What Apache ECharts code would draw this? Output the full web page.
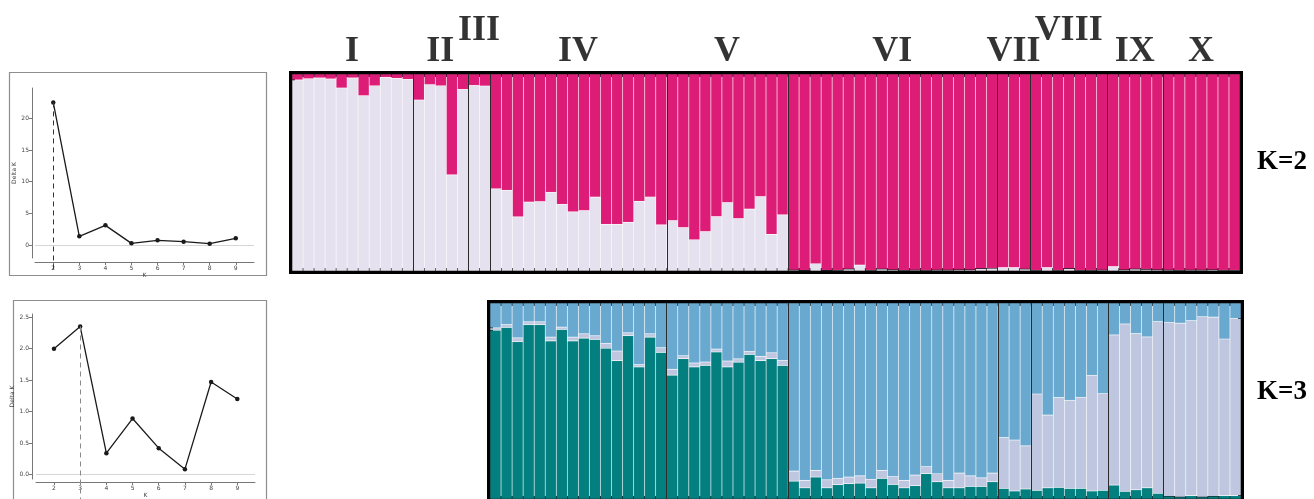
<!DOCTYPE html>
<html><head><meta charset="utf-8">
<script src="https://cdn.jsdelivr.net/npm/echarts@6/dist/echarts.min.js"></script>
<style>html,body{margin:0;padding:0;background:#fff;}#c{width:1314px;height:499px;}</style>
</head><body><div id="c"></div>
<script>
// ---------- data ----------
const groups = ['I','II','III','IV','V','VI','VII','VIII','IX','X'];
const groupSizes = [11,5,2,16,11,19,3,7,5,7];
const raisedGroups = ['III','VIII'];

// K=2 : membership in the pale cluster (rest = magenta cluster)
const k2Pale = [
  0.97,0.976,0.98,0.975,0.929,0.98,0.89,0.94,0.983,0.978,0.973,
  0.868,0.946,0.94,0.488,0.922,
  0.942,0.939,
  0.417,0.41,0.275,0.35,0.353,0.40,0.339,0.30,0.307,0.375,0.237,0.237,0.247,0.354,0.376,0.234,
  0.256,0.22,0.159,0.2,0.276,0.347,0.266,0.314,0.378,0.186,0.285,
  0.005,0.003,0.037,0.003,0.004,0.01,0.03,0.004,0.01,0.006,0.004,0.005,0.004,0.005,0.005,0.006,0.006,0.012,0.014,
  0.017,0.017,0.01,
  0.004,0.017,0.004,0.012,0.004,0.004,0.005,
  0.022,0.006,0.01,0.008,0.006,
  0.005,0.004,0.005,0.005,0.006,0.004,0.004
];

// K=3 (groups IV..X): teal cluster, pale cluster (rest = blue cluster)
const k3FirstGroup = 3;
const k3Teal = [
  0.861,0.875,0.802,0.889,0.889,0.807,0.865,0.807,0.821,0.814,0.769,0.706,0.833,0.674,0.826,0.748,
  0.632,0.716,0.674,0.682,0.75,0.674,0.698,0.738,0.706,0.716,0.682,
  0.091,0.057,0.112,0.057,0.073,0.078,0.081,0.057,0.105,0.074,0.057,0.068,0.129,0.088,0.057,0.057,0.064,0.064,0.088,
  0.054,0.041,0.051,
  0.044,0.057,0.059,0.054,0.054,0.041,0.044,
  0.071,0.039,0.047,0.057,0.029,
  0.014,0.01,0.017,0.01,0.014,0.017,0.017
];
const k3Pale = [
  0.012,0.015,0.02,0.015,0.015,0.019,0.012,0.019,0.022,0.019,0.025,0.049,0.015,0.012,0.017,0.024,
  0.03,0.015,0.02,0.017,0.015,0.03,0.017,0.015,0.022,0.03,0.025,
  0.051,0.038,0.034,0.041,0.033,0.034,0.037,0.044,0.041,0.041,0.038,0.054,0.037,0.041,0.038,0.075,0.054,0.044,0.044,
  0.259,0.26,0.22,
  0.492,0.371,0.458,0.45,0.465,0.59,0.494,
  0.766,0.854,0.797,0.77,0.876,
  0.886,0.887,0.893,0.92,0.914,0.799,0.904
];

// Evanno Delta K
const kValues = [2,3,4,5,6,7,8,9];
const deltaKTop = [22.5,1.37,3.1,0.26,0.74,0.53,0.21,1.05];
const deltaKBottom = [2.0,2.35,0.34,0.89,0.42,0.086,1.47,1.20];
const deltaKTopTicks = [0,5,10,15,20];
const deltaKBottomTicks = [0,0.5,1,1.5,2,2.5];

// ---------- build ----------
const k2N = k2Pale.length;
const k3Sizes = groupSizes.slice(k3FirstGroup);
const k3N = k3Teal.length;
function cum(sizes){const b=[];let s=0;sizes.forEach(v=>{s+=v;b.push(s);});return b;}
const k2Bounds = cum(groupSizes).slice(0,-1);
const k3Bounds = cum(k3Sizes).slice(0,-1);
const k2Centers = cum(groupSizes).map((e,i)=>e-groupSizes[i]/2);

const c1 = '#dd1c77', cPale2 = '#e5e1ee';
const cTeal = '#037f80', cPale3 = '#bec7df', cBlue = '#69a9d0';
const sep = {borderColor:'rgba(255,255,255,0.1)', borderWidth:0.6};

function argmax(a){let m=0;a.forEach((v,i)=>{if(v>a[m])m=i;});return m;}
const best1 = argmax(deltaKTop), best2 = argmax(deltaKBottom);

// Delta-K panel geometry (grid box + y range); dashed guide panels extend lower
const dk1 = {left:35, top:88, width:219, height:170, xmin:1.30, xmax:9.70, ymin:-2.05, ymax:24.78, extra:14};
const dk2 = {left:36, top:314, width:219, height:167, xmin:1.313, xmax:9.676, ymin:-0.07, ymax:2.55, extra:22};
function extMin(p){return p.ymin - p.extra*(p.ymax-p.ymin)/p.height;}

const smallAxisText = {fontFamily:'DejaVu Sans', fontSize:6, color:'#444'};
function dkX(grid,p,offset){
  return {type:'value', gridIndex:grid, min:p.xmin, max:p.xmax, offset:offset,
    axisLine:{show:true,onZero:false,lineStyle:{color:'#777',width:1}},
    axisTick:{show:true,customValues:kValues,length:3,lineStyle:{color:'#777'}},
    axisLabel:Object.assign({customValues:kValues,margin:3},smallAxisText),
    splitLine:{show:false},
    name:'K', nameLocation:'middle', nameGap:10, nameTextStyle:smallAxisText};
}
function dkY(grid,p,offset,ticks,fmt){
  return {type:'value', gridIndex:grid, min:p.ymin, max:p.ymax, offset:offset,
    axisLine:{show:true,onZero:false,lineStyle:{color:'#777',width:1}},
    axisTick:{show:true,customValues:ticks,length:3,lineStyle:{color:'#777'}},
    axisLabel:Object.assign({customValues:ticks,margin:3,formatter:fmt},smallAxisText),
    splitLine:{show:false},
    name:'Delta K', nameLocation:'middle', nameGap:14, nameRotate:90, nameTextStyle:smallAxisText};
}
function dkSeries(ai, vals){
  return {type:'line', xAxisIndex:ai, yAxisIndex:ai, data:kValues.map((k,i)=>[k,vals[i]]),
    symbol:'circle', symbolSize:4.5, itemStyle:{color:'#1a1a1a'}, lineStyle:{color:'#1a1a1a',width:1.3},
    z:3,
    markLine:{silent:true, symbol:'none', label:{show:false}, animation:false, z:2,
      data:[{yAxis:0, lineStyle:{color:'#d6d6d6',width:1,type:'solid'}}]}};
}
function dashSeries(xi, yi, p, vals, best, color){
  return {type:'line', xAxisIndex:xi, yAxisIndex:yi, data:[], silent:true, z:2,
    markLine:{silent:true, symbol:'none', label:{show:false}, animation:false,
      lineStyle:{color:color,width:1,type:[5,4]},
      data:[[{coord:[kValues[best],vals[best]]},{coord:[kValues[best],extMin(p)]}]]}};
}
function bounds(xi, yi, b){
  return {type:'line', xAxisIndex:xi, yAxisIndex:yi, data:[], silent:true,
    markLine:{silent:true, symbol:'none', label:{show:false}, animation:false,
      lineStyle:{color:'#2b2b2b',width:1,type:'solid'}, data:b.map(v=>({xAxis:v}))}, z:5};
}

const option = {
  animation:false,
  backgroundColor:'#fff',
  grid:[
    {left:dk1.left, top:dk1.top, width:dk1.width, height:dk1.height},
    {left:dk2.left, top:dk2.top, width:dk2.width, height:dk2.height},
    {left:292, top:74, width:948, height:197, show:true, borderColor:'#000', borderWidth:6, backgroundColor:'transparent'},
    {left:490, top:303, width:751, height:197, show:true, borderColor:'#000', borderWidth:6, backgroundColor:'transparent'},
    {left:dk1.left, top:dk1.top, width:dk1.width, height:dk1.height+dk1.extra},
    {left:dk2.left, top:dk2.top, width:dk2.width, height:dk2.height+dk2.extra}
  ],
  xAxis:[
    dkX(0,dk1,4),
    dkX(1,dk2,3),
    {type:'category', gridIndex:2, data:k2Pale.map((v,i)=>i+1), show:false},
    {type:'value', gridIndex:2, min:0, max:k2N, show:false},
    {type:'category', gridIndex:3, data:k3Teal.map((v,i)=>i+1), show:false},
    {type:'value', gridIndex:3, min:0, max:k3N, show:false},
    {type:'value', gridIndex:4, min:dk1.xmin, max:dk1.xmax, show:false},
    {type:'value', gridIndex:5, min:dk2.xmin, max:dk2.xmax, show:false}
  ],
  yAxis:[
    dkY(0,dk1,3,deltaKTopTicks,v=>String(v)),
    dkY(1,dk2,4,deltaKBottomTicks,v=>v.toFixed(1)),
    {type:'value', gridIndex:2, min:0, max:1, show:false},
    {type:'value', gridIndex:3, min:0, max:1, show:false},
    {type:'value', gridIndex:4, min:extMin(dk1), max:dk1.ymax, show:false},
    {type:'value', gridIndex:5, min:extMin(dk2), max:dk2.ymax, show:false}
  ],
  graphic:[
    {type:'rect', shape:{x:9.5,y:72.5,width:257,height:203}, style:{fill:'none',stroke:'#8e8e8e',lineWidth:1.2}, silent:true},
    {type:'rect', shape:{x:13.5,y:300.5,width:253,height:215}, style:{fill:'none',stroke:'#8e8e8e',lineWidth:1.2}, silent:true},
    {type:'text', x:1257, y:162, style:{text:'K=2', font:'bold 27px "Liberation Serif"', fill:'#000', verticalAlign:'middle'}},
    {type:'text', x:1257, y:392, style:{text:'K=3', font:'bold 27px "Liberation Serif"', fill:'#000', verticalAlign:'middle'}}
  ],
  series:[
    dashSeries(6, 4, dk1, deltaKTop, best1, '#333'),
    dashSeries(7, 5, dk2, deltaKBottom, best2, '#8a8a8a'),
    dkSeries(0, deltaKTop),
    dkSeries(1, deltaKBottom),
    {type:'bar', xAxisIndex:2, yAxisIndex:2, stack:'k2', data:k2Pale, barCategoryGap:'0%', itemStyle:Object.assign({color:cPale2},sep)},
    {type:'bar', xAxisIndex:2, yAxisIndex:2, stack:'k2', data:k2Pale.map(v=>+(1-v).toFixed(4)), barCategoryGap:'0%', itemStyle:Object.assign({color:c1},sep)},
    bounds(3,2,k2Bounds),
    {type:'scatter', xAxisIndex:3, yAxisIndex:2, clip:false, symbolSize:1, silent:true, itemStyle:{color:'rgba(0,0,0,0)'},
      data:groups.map((g,i)=>[k2Centers[i], raisedGroups.includes(g)?1.215:1.113, g]),
      label:{show:true, position:[0,0], align:'center', verticalAlign:'middle', formatter:p=>p.data[2],
        fontFamily:'Liberation Serif', fontWeight:'bold', fontSize:36, color:'#000', textBorderWidth:0}},
    {type:'bar', xAxisIndex:4, yAxisIndex:3, stack:'k3', data:k3Teal, barCategoryGap:'0%', itemStyle:Object.assign({color:cTeal},sep)},
    {type:'bar', xAxisIndex:4, yAxisIndex:3, stack:'k3', data:k3Pale, barCategoryGap:'0%', itemStyle:Object.assign({color:cPale3},sep)},
    {type:'bar', xAxisIndex:4, yAxisIndex:3, stack:'k3', data:k3Teal.map((v,i)=>+(1-v-k3Pale[i]).toFixed(4)), barCategoryGap:'0%', itemStyle:Object.assign({color:cBlue},sep)},
    bounds(5,3,k3Bounds)
  ]
};
const chart = echarts.init(document.getElementById('c'), null, {renderer:'canvas'});
chart.setOption(option);
</script></body></html>
